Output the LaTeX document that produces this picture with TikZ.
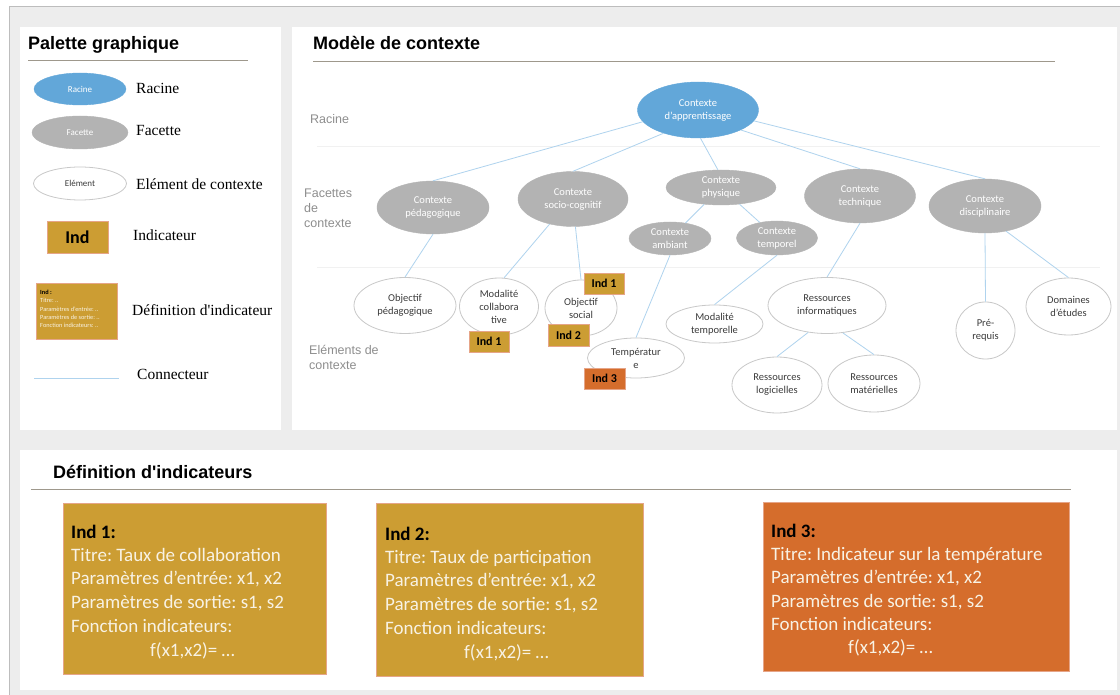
\documentclass[tikz,border=0pt]{standalone}
\usepackage{fontspec}
\setmainfont{Carlito}
\newfontfamily\arialf{Liberation Sans}
\newfontfamily\timesf{Liberation Serif}
\usetikzlibrary{shapes.geometric}
\frenchspacing
\definecolor{bgc}{HTML}{EDEDED}
\definecolor{framec}{HTML}{BDBDBD}
\definecolor{rootblue}{HTML}{62A7D9}
\definecolor{facetgray}{HTML}{B3B3B3}
\definecolor{elemborder}{HTML}{C8C8C8}
\definecolor{elemtext}{HTML}{3C3C3C}
\definecolor{gold}{HTML}{CC9D33}
\definecolor{goldborder}{HTML}{E6A588}
\definecolor{orangeind}{HTML}{D56D2C}
\definecolor{connc}{HTML}{AFD3EE}
\definecolor{sidegray}{HTML}{8E8E8E}
\definecolor{rulec}{HTML}{9E988C}
\definecolor{boxtext}{HTML}{F8F2E4}
\definecolor{sepc}{HTML}{F1F1F1}
\newcommand{\ndfont}{\fontsize{10.5}{13}\selectfont}
\newcommand{\bxfont}{\fontsize{19}{23}\selectfont}
\tikzset{
  rootnode/.style={ellipse, fill=rootblue, draw=rootblue, text=white, inner sep=0pt, align=center, font=\ndfont},
  facetnode/.style={ellipse, fill=facetgray, draw=facetgray, text=white, inner sep=0pt, align=center, font=\ndfont},
  elemnode/.style={ellipse, fill=white, draw=elemborder, line width=0.8pt, text=elemtext, inner sep=0pt, align=center, font=\ndfont},
  indtag/.style={rectangle, fill=gold, draw=goldborder, line width=0.7pt, minimum width=40pt, minimum height=21pt, inner sep=0pt, text=black, font=\bfseries\fontsize{12}{14}\selectfont},
  conn/.style={draw=connc, line width=0.8pt},
  heading/.style={anchor=base west, inner sep=0pt, font=\arialf\bfseries\fontsize{18}{20}\selectfont},
  headrule/.style={draw=rulec, line width=1pt},
  sidelabel/.style={anchor=west, inner sep=0pt, align=left, text=sidegray, font=\arialf\fontsize{12.5}{15}\selectfont},
  pallabel/.style={anchor=west, inner sep=0pt, font=\timesf\fontsize{15.5}{18}\selectfont},
  defbox/.style={rectangle, draw=goldborder, line width=0.7pt, inner sep=0pt, anchor=north west},
  deftext/.style={anchor=base west, inner sep=0pt, text=boxtext, font=\bxfont},
  deftitle/.style={anchor=base west, inner sep=0pt, text=black, font=\bfseries\bxfont},
  panel/.style={fill=white}
}
\begin{document}
\begin{tikzpicture}[x=1pt,y=-1pt]
\useasboundingbox (0,0) rectangle (1120,695);
\fill[white] (0,0) rectangle (1120,695);
\filldraw[fill=bgc, draw=framec, line width=1pt] (9,7) rectangle (1130,705);
% panels
\fill[panel] (20,27) rectangle (281,430);
\fill[panel] (292,27) rectangle (1117,430);
\fill[panel] (20,450) rectangle (1117,690);

% headings
\node[heading] (h1) at (28,50) {Palette graphique};
\coordinate (h1a) at (28,61); \coordinate (h1b) at (248,61);
\draw[headrule] (h1a) -- (h1b);
\node[heading] (h2) at (313,50) {Modèle de contexte};
\coordinate (h2a) at (313,62); \coordinate (h2b) at (1055,62);
\draw[headrule] (h2a) -- (h2b);
\node[heading] (h3) at (53,478) {Définition d'indicateurs};
\coordinate (h3a) at (31,489); \coordinate (h3b) at (1071,489);
\draw[headrule] (h3a) -- (h3b);

% palette
\node[rootnode, minimum width=92pt, minimum height=32pt, font=\fontsize{9}{10}\selectfont] (pr) at (80,89) {Racine};
\node[pallabel] (prl) at (136,88) {Racine};
\node[facetnode, minimum width=96pt, minimum height=33pt, font=\fontsize{9}{10}\selectfont] (pf) at (80,132.5) {Facette};
\node[pallabel] (pfl) at (136,131) {Facette};
\node[elemnode, minimum width=93pt, minimum height=33pt, font=\fontsize{9}{10}\selectfont] (pe) at (80,183.5) {Elément};
\node[pallabel] (pel) at (136,184) {Elément de contexte};
\node[indtag, minimum width=61pt, minimum height=32pt, font=\bfseries\fontsize{18}{20}\selectfont] (pi) at (77.5,237) {Ind};
\node[pallabel] (pil) at (133,235) {Indicateur};
\node[defbox, fill=gold, minimum width=81pt, minimum height=56pt] (pd) at (36,283) {};
\node[anchor=north west, inner sep=0pt, font=\fontsize{6.3}{8.2}\selectfont, align=left, text=boxtext] (pdt) at (40,290)
  {\textcolor{black}{\bfseries Ind :}\\Titre: ..\\Paramètres d'entrée: ..\\Paramètres de sortie: ..\\Fonction indicateurs: ..};
\node[pallabel] (pdl) at (132,310) {Définition d'indicateur};
\coordinate (pc1) at (34,378); \coordinate (pc2) at (119,378);
\draw[conn] (pc1) -- (pc2);
\node[pallabel] (pcl) at (137,374) {Connecteur};

% model side labels and separators
\node[sidelabel] (sl1) at (310,119) {Racine};
\node[sidelabel] (sl2) at (304,208) {Facettes\\de\\contexte};
\node[sidelabel] (sl3) at (309,357) {Eléments de\\contexte};
\coordinate (s1a) at (317,147); \coordinate (s1b) at (1100,147);
\coordinate (s2a) at (317,268); \coordinate (s2b) at (1100,268);
\draw[sepc, line width=1pt] (s1a) -- (s1b);
\draw[sepc, line width=1pt] (s2a) -- (s2b);

% tree nodes
\node[rootnode, minimum width=121pt, minimum height=56pt] (root) at (698,110) {Contexte\\d'apprentissage};
\node[facetnode, minimum width=112pt, minimum height=53pt] (ped) at (433,207.5) {Contexte\\pédagogique};
\node[facetnode, minimum width=110pt, minimum height=55pt] (socio) at (573,199) {Contexte\\socio-cognitif};
\node[facetnode, minimum width=110pt, minimum height=35pt] (phys) at (721,187.5) {Contexte\\physique};
\node[facetnode, minimum width=82pt, minimum height=33pt] (amb) at (670,238.5) {Contexte\\ambiant};
\node[facetnode, minimum width=81pt, minimum height=34pt] (tempo) at (777,238) {Contexte\\temporel};
\node[facetnode, minimum width=111pt, minimum height=54pt] (tech) at (860,196) {Contexte\\technique};
\node[facetnode, minimum width=112pt, minimum height=54pt] (disc) at (985,206) {Contexte\\disciplinaire};

\node[elemnode, minimum width=102pt, minimum height=56pt] (objped) at (405,305.5) {Objectif\\pédagogique};
\node[elemnode, minimum width=79pt, minimum height=57pt] (modal) at (499,306.5) {Modalité\\collabora\\tive};
\node[elemnode, minimum width=72pt, minimum height=56pt] (objsoc) at (581,308) {Objectif\\social};
\node[elemnode, minimum width=97pt, minimum height=40pt] (temp) at (636,358) {Températur\\e};
\node[elemnode, minimum width=97pt, minimum height=38pt] (modtemp) at (714.5,324) {Modalité\\temporelle};
\node[elemnode, minimum width=118pt, minimum height=56pt] (resinf) at (827,305.5) {Ressources\\informatiques};
\node[elemnode, minimum width=90pt, minimum height=56pt] (reslog) at (777,385) {Ressources\\logicielles};
\node[elemnode, minimum width=92pt, minimum height=57pt] (resmat) at (874,383.5) {Ressources\\matérielles};
\node[elemnode, minimum width=59pt, minimum height=57pt] (prereq) at (985.5,330.5) {Pré-\\requis};
\node[elemnode, minimum width=85pt, minimum height=57pt] (domaines) at (1068.5,306.5) {Domaines\\d'études};

% connectors
\draw[conn] (root.192) -- (ped.north);
\draw[conn] (root.214) -- (socio.north);
\draw[conn] (root.275) -- (phys.100);
\draw[conn] (root.335) -- (tech.north);
\draw[conn] (root.349) -- (disc.north);
\draw[conn] (phys) -- (amb);
\draw[conn] (phys) -- (tempo);
\draw[conn] (ped.south) -- (objped.north);
\draw[conn] (socio.227) -- (modal.80);
\draw[conn] (socio.275) -- (objsoc.north);
\draw[conn] (amb.south) -- (temp.north);
\draw[conn] (tempo.south) -- (modtemp.north);
\draw[conn] (tech.south) -- (resinf.north);
\draw[conn] (disc.south) -- (prereq.north);
\draw[conn] (disc.310) -- (domaines.north);
\draw[conn] (resinf.235) -- (reslog.north);
\draw[conn] (resinf.300) -- (resmat.north);

% indicator tags
\node[indtag] (t1a) at (604,283.5) {Ind 1};
\node[indtag, minimum width=41pt, minimum height=22pt] (t2) at (568.5,335) {Ind 2};
\node[indtag] (t1b) at (489,341.5) {Ind 1};
\node[indtag, fill=orangeind, minimum width=41pt] (t3) at (604.5,378.5) {Ind 3};

% definition boxes
\node[defbox, fill=gold, minimum width=263pt, minimum height=171pt] (d1) at (63,503) {};
\node[deftitle] (d1t) at (71,538) {Ind 1:};
\node[deftext] (d1a) at (71,561) {Titre: Taux de collaboration};
\node[deftext] (d1b) at (71,584.5) {Paramètres d’entrée: x1, x2};
\node[deftext] (d1c) at (71,608) {Paramètres de sortie: s1, s2};
\node[deftext] (d1d) at (71,632) {Fonction indicateurs:};
\node[deftext] (d1e) at (150,656) {f(x1,x2)= …};

\node[defbox, fill=gold, minimum width=267pt, minimum height=173pt] (d2) at (376,503) {};
\node[deftitle] (d2t) at (385,540) {Ind 2:};
\node[deftext] (d2a) at (385,563) {Titre: Taux de participation};
\node[deftext] (d2b) at (385,586.5) {Paramètres d’entrée: x1, x2};
\node[deftext] (d2c) at (385,610) {Paramètres de sortie: s1, s2};
\node[deftext] (d2d) at (385,634) {Fonction indicateurs:};
\node[deftext] (d2e) at (464,658) {f(x1,x2)= …};

\node[defbox, fill=orangeind, minimum width=306pt, minimum height=169pt] (d3) at (763,502) {};
\node[deftitle] (d3t) at (771,537) {Ind 3:};
\node[deftext] (d3a) at (771,560) {Titre: Indicateur sur la température};
\node[deftext] (d3b) at (771,583.5) {Paramètres d’entrée: x1, x2};
\node[deftext] (d3c) at (771,607) {Paramètres de sortie: s1, s2};
\node[deftext] (d3d) at (771,630.5) {Fonction indicateurs:};
\node[deftext] (d3e) at (848,653) {f(x1,x2)= …};
\end{tikzpicture}
\end{document}
